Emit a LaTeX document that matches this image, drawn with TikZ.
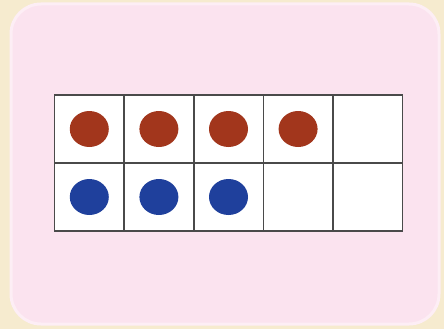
\documentclass[tikz,border=0pt]{standalone}
\usetikzlibrary{shapes.geometric}
\definecolor{cream}{HTML}{F6EBCF}
\definecolor{boardpink}{HTML}{FBE3EF}
\definecolor{dotred}{HTML}{A2361C}
\definecolor{dotblue}{HTML}{1F409C}
\definecolor{gridline}{HTML}{4A4A4A}
\begin{document}
\begin{tikzpicture}[
    x=1pt, y=-1pt,
    cell_style/.style={rectangle, draw=gridline, line width=1.6pt,
        minimum width=69.6pt, minimum height=68pt, inner sep=0pt},
    dot_style/.style={ellipse, minimum width=39pt, minimum height=36pt, inner sep=0pt}
]
% background and board
\fill[cream] (0,0) rectangle (444,329);
\draw[boardpink!60!white, line width=3pt, fill=boardpink, rounded corners=30pt]
    (11,4) rectangle (439,324);
% ten frame
\fill[white] (54.5,95) rectangle (402.5,231);
\foreach \c in {1,...,5} {
    \foreach \r in {1,2} {
        \node[cell_style] (cell\r\c) at ({54.5+69.6*(\c-0.5)}, {95+68*(\r-0.5)}) {};
    }
}
% counters
\foreach \c in {1,...,4}
    \node[dot_style, fill=dotred] (red\c) at (cell1\c.center) {};
\foreach \c in {1,...,3}
    \node[dot_style, fill=dotblue] (blue\c) at (cell2\c.center) {};
\end{tikzpicture}
\end{document}
